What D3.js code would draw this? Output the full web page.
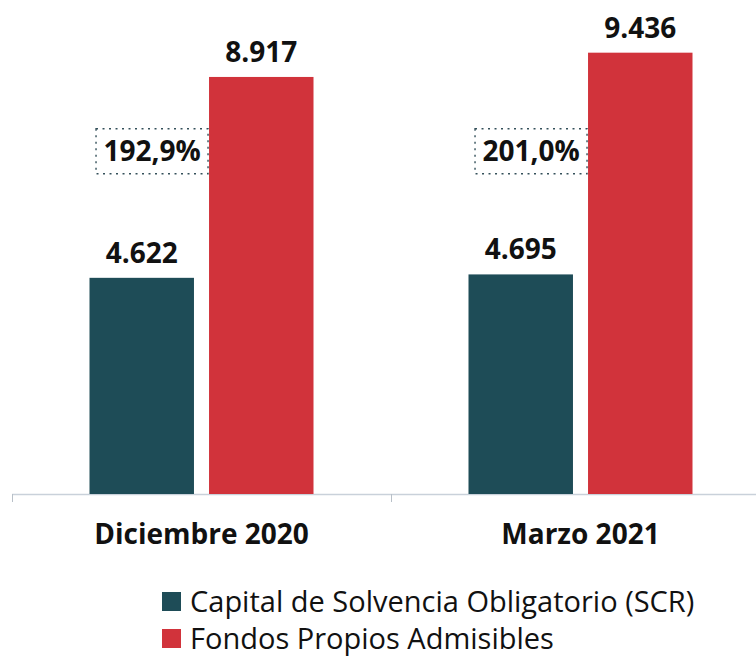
<!DOCTYPE html>
<html><head><meta charset="utf-8">
<script src="https://cdn.jsdelivr.net/npm/d3@7"></script>
<style>body{margin:0;background:#fff}svg{display:block}</style>
</head><body>
<script>
const categories = ["Diciembre 2020", "Marzo 2021"];
const seriesNames = ["Capital de Solvencia Obligatorio (SCR)", "Fondos Propios Admisibles"];
const scrValues = [4.622, 4.695];
const fondosValues = [8.917, 9.436];
const scrLabels = ["4.622", "4.695"];
const fondosLabels = ["8.917", "9.436"];
const ratioLabels = ["192,9%", "201,0%"];
const colors = ["#1e4c57", "#d1333b"];

const W = 756, H = 657;
const svg = d3.select("body").append("svg").attr("width", W).attr("height", H);
const font = "'Open Sans', sans-serif";

const x = d3.scaleBand().domain(categories).range([12, 770]).padding(0);
const xs = d3.scaleBand().domain(seriesNames).range([-112, 112]).paddingInner(0.126).paddingOuter(0);
const y = d3.scaleLinear().domain([0, 10]).range([494, 26.3]);

const rows = categories.map((c, i) => ({
  cat: c,
  vals: [
    {s: seriesNames[0], v: scrValues[i], lab: scrLabels[i], col: colors[0]},
    {s: seriesNames[1], v: fondosValues[i], lab: fondosLabels[i], col: colors[1]}
  ],
  ratio: ratioLabels[i]
}));

// axis
const axis = svg.append("g");
axis.append("line").attr("x1", x.range()[0]).attr("x2", W).attr("y1", y(0) + 0.5).attr("y2", y(0) + 0.5)
  .attr("stroke", "#c9d1da").attr("stroke-width", 1.5);
const tickPos = categories.map(c => x(c)).concat([x(categories[categories.length - 1]) + x.bandwidth()]);
axis.selectAll("line.tick").data(tickPos).join("line").attr("class", "tick")
  .attr("x1", d => d + 0.5).attr("x2", d => d + 0.5).attr("y1", y(0)).attr("y2", y(0) + 8)
  .attr("stroke", "#b8c0c8").attr("stroke-width", 1);

const g = svg.selectAll("g.cat").data(rows).join("g").attr("class", "cat")
  .attr("transform", d => `translate(${x(d.cat) + x.bandwidth() / 2},0)`);

g.selectAll("rect.bar").data(d => d.vals).join("rect").attr("class", "bar")
  .attr("x", d => xs(d.s)).attr("width", xs.bandwidth())
  .attr("y", d => y(d.v)).attr("height", d => y(0) - y(d.v))
  .attr("fill", d => d.col);

g.selectAll("text.val").data(d => d.vals).join("text").attr("class", "val")
  .attr("x", d => xs(d.s) + xs.bandwidth() / 2).attr("y", d => y(d.v) - 15)
  .attr("text-anchor", "middle").attr("font-family", font).attr("font-weight", 700)
  .attr("font-size", 28).attr("fill", "#111").text(d => d.lab);

// ratio boxes
const boxW = 112, boxH = 45;
g.each(function(d) {
  const gg = d3.select(this);
  const right = xs(seriesNames[1]) - 1;
  const cy = y(7.33);
  gg.append("rect").attr("x", right - boxW).attr("y", cy - boxH / 2).attr("width", boxW).attr("height", boxH)
    .attr("fill", "none").attr("stroke", "#34505a").attr("stroke-width", 1.4).attr("stroke-dasharray", "2,4.5");
  gg.append("text").attr("x", right - boxW / 2).attr("y", cy + 10)
    .attr("text-anchor", "middle").attr("font-family", font).attr("font-weight", 700)
    .attr("font-size", 28).attr("fill", "#111").text(d.ratio);
});

// category labels
svg.selectAll("text.cat").data(categories).join("text").attr("class", "cat")
  .attr("x", d => x(d) + x.bandwidth() / 2).attr("y", 544)
  .attr("text-anchor", "middle").attr("font-family", font).attr("font-weight", 700)
  .attr("font-size", 28).attr("fill", "#111").text(d => d);

// legend
const lg = svg.selectAll("g.leg").data(seriesNames).join("g").attr("class", "leg")
  .attr("transform", (d, i) => `translate(162,${592 + i * 37})`);
lg.append("rect").attr("width", 19).attr("height", 19).attr("fill", (d, i) => colors[i]);
lg.append("text").attr("x", 28).attr("y", 19.5).attr("font-family", font).attr("font-size", 29)
  .attr("fill", "#111").text(d => d);
</script>
</body></html>
